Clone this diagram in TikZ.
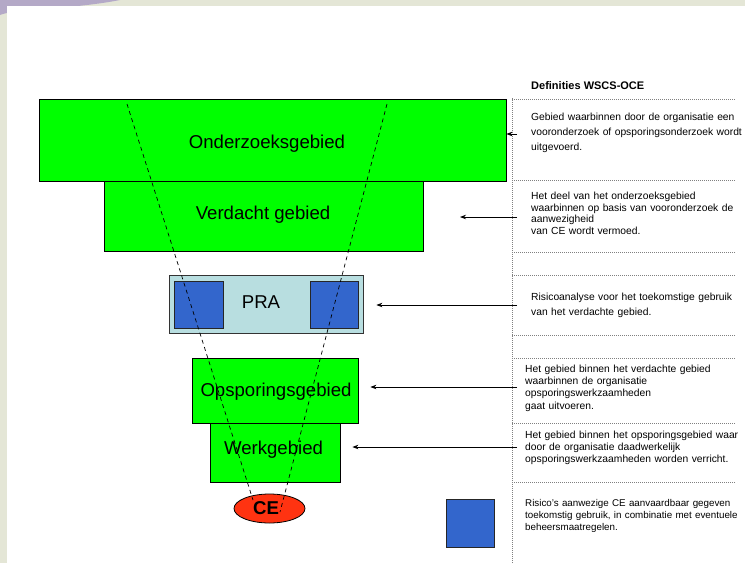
\documentclass[tikz,border=0pt]{standalone}
\usepackage{fontspec}
\setmainfont{Liberation Sans}
\usetikzlibrary{arrows.meta,shapes.geometric}
\definecolor{bgbeige}{HTML}{E4E6D6}
\definecolor{lavender}{HTML}{B4A9C7}
\definecolor{areagreen}{HTML}{00FF00}
\definecolor{prafill}{HTML}{B8DEE0}
\definecolor{riskblue}{HTML}{3366CC}
\definecolor{cered}{HTML}{FF3311}
\definecolor{dotgray}{HTML}{808080}
\tikzset{
  areabox/.style={draw=black, line width=0.8pt, fill=areagreen, inner sep=0pt},
  prabox/.style={draw=black!80, line width=0.8pt, fill=prafill, inner sep=0pt},
  riskbox/.style={draw=black!85, line width=0.9pt, fill=riskblue, inner sep=0pt},
  boxlabel/.style={font=\fontsize{18.6}{22}\selectfont, inner sep=0pt},
  sightline/.style={draw=black, line width=0.7pt, dash pattern=on 4pt off 3.5pt},
  sep/.style={draw=dotgray, line width=0.6pt, dash pattern=on 0.9pt off 1.1pt},
  pointer/.style={draw=black, line width=0.8pt, -{Stealth[length=6pt,width=4.5pt]}},
  deftext/.style={anchor=base west, inner sep=0pt, text width=230pt, align=left},
}
\begin{document}
\begin{tikzpicture}[x=1pt,y=-1pt]
\useasboundingbox (0,0) rectangle (745,563);
% slide background
\fill[bgbeige] (0,0) rectangle (745,563);
\fill[lavender] (0,0) -- (120,0) .. controls (95,5) and (60,8) .. (30,10) .. controls (15,11) and (5,13) .. (0,15) -- cycle;
\fill[white] (7,6) rectangle (745,563);

% area boxes
\node[areabox, minimum width=467pt, minimum height=82pt] (oz) at (272.5,140) {};
\node[boxlabel] (ozl) at (267,144) {Onderzoeksgebied};
\node[areabox, minimum width=319pt, minimum height=70pt] (vg) at (263.5,216) {};
\node[boxlabel] (vgl) at (263,215) {Verdacht gebied};
\node[prabox, minimum width=194pt, minimum height=58pt] (pra) at (266,304) {};
\node[riskbox, minimum width=49pt, minimum height=47pt] (sqa) at (198.5,304.5) {};
\node[riskbox, minimum width=48pt, minimum height=47pt] (sqb) at (334,304.5) {};
\node[boxlabel] (pral) at (261,302) {PRA};
\node[areabox, minimum width=166pt, minimum height=65pt] (og) at (275,390.5) {};
\node[boxlabel] (ogl) at (276,392) {Opsporingsgebied};
\node[areabox, minimum width=130pt, minimum height=59pt] (wg) at (275,452.5) {};
\node[boxlabel] (wgl) at (273.5,450) {Werkgebied};
\node[draw=black, line width=0.8pt, fill=cered, ellipse, minimum width=71pt, minimum height=29pt, inner sep=0pt] (ce) at (269.5,508.5) {};
\node[boxlabel, font=\bfseries\fontsize{18.6}{22}\selectfont] (cel) at (266,508) {CE};

% sight lines
\coordinate (sl1) at (127,104);
\coordinate (sl2) at (253,500);
\coordinate (sr1) at (387,104);
\coordinate (sr2) at (280,512);
\draw[sightline] (sl1) -- (sl2);
\draw[sightline] (sr1) -- (sr2);

% definitions column
\node[anchor=base west, inner sep=0pt, font=\bfseries\fontsize{11}{13}\selectfont] (title) at (531,89) {Definities WSCS-OCE};
\coordinate (vtop) at (512,98);
\coordinate (vbot) at (512,563);
\draw[sep] (vtop) -- (vbot);
\foreach \yy [count=\i] in {99,180,252,275,335,358,423,482}{
  \coordinate (hl\i) at (512,\yy);
  \coordinate (hr\i) at (735,\yy);
  \draw[sep] (hl\i) -- (hr\i);
}

\node[deftext, font=\fontsize{10.3}{15}\selectfont] (d1) at (531,120.7) {Gebied waarbinnen door de organisatie een\\vooronderzoek of opsporingsonderzoek wordt\\uitgevoerd.};
\node[deftext, font=\fontsize{10.3}{11.5}\selectfont] (d2) at (531,199.7) {Het deel van het onderzoeksgebied\\waarbinnen op basis van vooronderzoek de\\aanwezigheid\\van CE wordt vermoed.};
\node[deftext, font=\fontsize{10.3}{15}\selectfont] (d3) at (531,300.7) {Risicoanalyse voor het toekomstige gebruik\\van het verdachte gebied.};
\node[deftext, font=\fontsize{10.3}{12.3}\selectfont] (d4) at (525,372.2) {Het gebied binnen het verdachte gebied\\waarbinnen de organisatie\\opsporingswerkzaamheden\\gaat uitvoeren.};
\node[deftext, font=\fontsize{10.3}{11.8}\selectfont] (d5) at (525,438.8) {Het gebied binnen het opsporingsgebied waar\\door de organisatie daadwerkelijk\\opsporingswerkzaamheden worden verricht.};
\node[deftext, font=\fontsize{9.8}{12}\selectfont] (d6) at (525,506.5) {Risico's aanwezige CE aanvaardbaar gegeven\\toekomstig gebruik, in combinatie met eventuele\\beheersmaatregelen.};

% legend square
\node[riskbox, minimum width=48pt, minimum height=48pt] (leg) at (470,523) {};

% pointers
\coordinate (p1) at (517,134);
\coordinate (p2) at (517,217);
\coordinate (p3) at (517,305);
\coordinate (p4) at (517,387);
\coordinate (p5) at (517,447);
\coordinate (t2) at (460,217);
\draw[pointer] (p1) -- (p1 -| oz.east);
\draw[pointer] (p2) -- (t2);
\draw[pointer] (p3) -- ([xshift=13pt]pra.east |- p3);
\draw[pointer] (p4) -- ([xshift=12pt]og.east |- p4);
\draw[pointer] (p5) -- ([xshift=12pt]wg.east |- p5);
\end{tikzpicture}
\end{document}
